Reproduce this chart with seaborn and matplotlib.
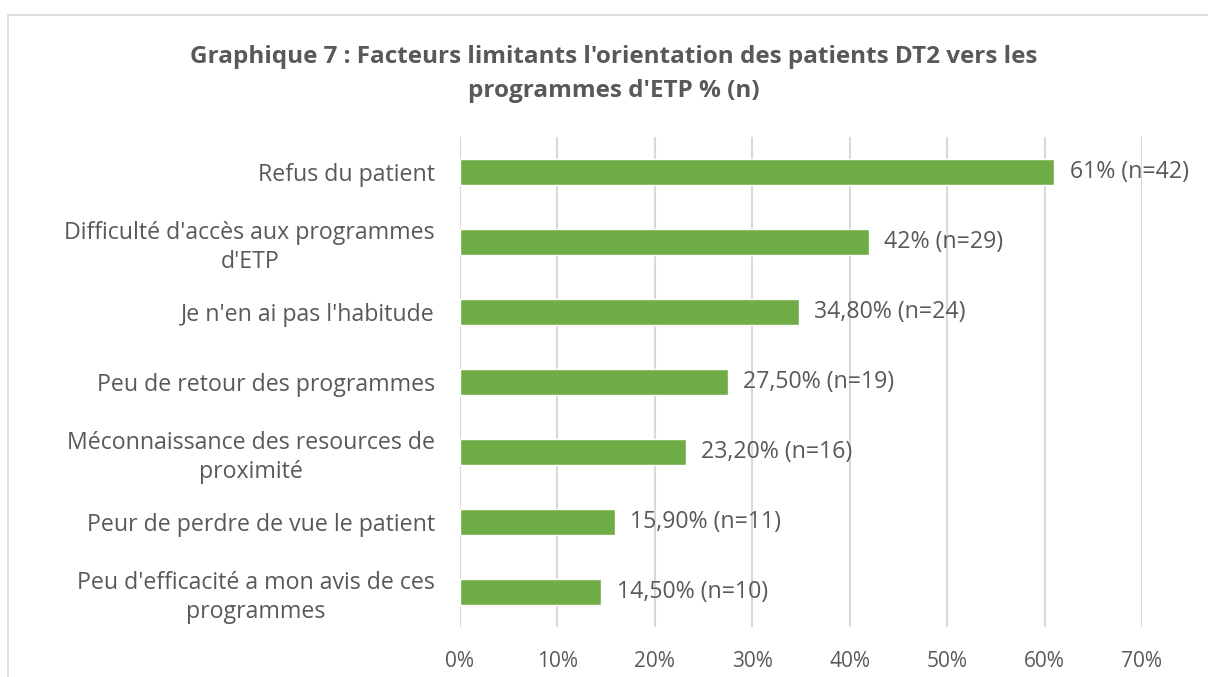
import matplotlib
matplotlib.use("Agg")
import matplotlib.pyplot as plt
import seaborn as sns
import pandas as pd
from matplotlib.patches import Rectangle
from matplotlib.ticker import FuncFormatter

# données du graphique
categories = [
    "Refus du patient",
    "Difficulté d'accès aux programmes\nd'ETP",
    "Je n'en ai pas l'habitude",
    "Peu de retour des programmes",
    "Méconnaissance des resources de\nproximité",
    "Peur de perdre de vue le patient",
    "Peu d'efficacité a mon avis de ces\nprogrammes",
]
pourcentages = [61, 42, 34.8, 27.5, 23.2, 15.9, 14.5]
etiquettes = [
    "61% (n=42)",
    "42% (n=29)",
    "34,80% (n=24)",
    "27,50% (n=19)",
    "23,20% (n=16)",
    "15,90% (n=11)",
    "14,50% (n=10)",
]
ticks_x = [0, 10, 20, 30, 40, 50, 60, 70]

df = pd.DataFrame({"Facteur": categories, "Pct": pourcentages})

sns.set_style("white")
plt.rcParams["font.family"] = ["Open Sans", "DejaVu Sans"]
gris = "#595959"

fig = plt.figure(figsize=(12.08, 6.77), dpi=100)
W, H = 1208, 677
ax = fig.add_axes([460 / W, 1 - 627 / H, (1142 - 460) / W, (627 - 137) / H])

sns.barplot(data=df, x="Pct", y="Facteur", color="#70AD47", width=0.37,
            saturation=1, ax=ax, zorder=3)

ax.set_xlim(0, 70)
ax.set_xticks(ticks_x)
ax.xaxis.set_major_formatter(FuncFormatter(lambda v, p: f"{int(v)}%"))
ax.grid(axis="x", color="#D9D9D9", linewidth=1.5, zorder=0)
ax.set_axisbelow(True)
for s in ax.spines.values():
    s.set_visible(False)
ax.tick_params(axis="both", length=0, colors=gris)
ax.tick_params(axis="x", pad=17, labelsize=15)
ax.tick_params(axis="y", pad=18, labelsize=16.7)
for lbl in ax.get_yticklabels():
    lbl.set_multialignment("center")
    lbl.set_linespacing(1.25)
ax.set_xlabel("")
ax.set_ylabel("")

for i, (v, t) in enumerate(zip(pourcentages, etiquettes)):
    ax.annotate(t, (v, i), xytext=(11, 0), textcoords="offset points",
                va="center", ha="left", fontsize=16.7, color=gris)

fig.text(614 / W, 1 - 74 / H,
         "Graphique 7 : Facteurs limitants l'orientation des patients DT2 vers les\nprogrammes d'ETP % (n)",
         ha="center", va="center", fontsize=17.5, fontweight="bold", color=gris,
         linespacing=1.6)

fig.patches.append(Rectangle((8 / W, -0.1), 1.2, 1 - 15 / H + 0.1,
                             transform=fig.transFigure, fill=False,
                             edgecolor="#D9D9D9", linewidth=1.2))

fig.savefig("out.png", dpi=100, facecolor="white")
